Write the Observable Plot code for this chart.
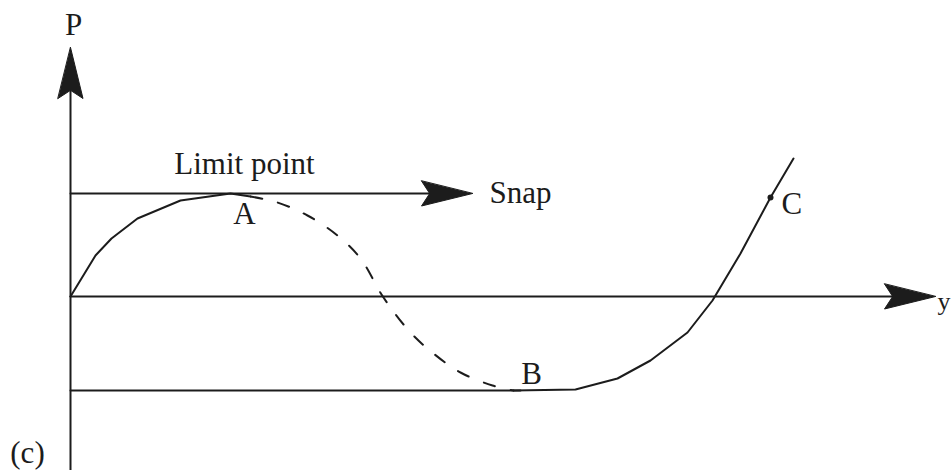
<!DOCTYPE html>
<html>
<head>
<meta charset="utf-8">
<script src="https://cdn.jsdelivr.net/npm/d3@7"></script>
<script src="https://cdn.jsdelivr.net/npm/@observablehq/plot@0.6"></script>
<style>
  html, body { margin: 0; padding: 0; background: #fff; }
  #chart svg { display: block; }
</style>
</head>
<body>
<div id="chart"></div>
<script>
// Displacement (y) and load (P) along the equilibrium path
const stableX1 = [0, 25, 41, 67, 110, 160, 180];
const stableP1 = [0, 41, 58, 78, 96, 103, 100];
const unstableX = [180, 207, 237, 267, 290, 313, 340, 363, 390, 422, 443];
const unstableP = [100, 94, 81, 61, 38, -1, -36, -57, -76, -89, -94];
const stableX2 = [443, 505, 547, 580, 617, 642, 670, 700, 723];
const stableP2 = [-94, -93, -82, -64, -36, -4, 43, 99, 138];

// Reference lines: limit-point load level and lower (snap) level
const limitLoad = 103;
const lowerLoad = -94;
const snapEnd = 402;
const lowerEnd = 450;

// Axes extents
const xMin = -70, xMax = 881, pMin = -174, pMax = 296;
const xAxisEnd = 865, pAxisEnd = 249;

// Point C
const pointC = {x: 700, p: 99};

// Labels
const labelText = ["P", "Limit point", "Snap", "A", "B", "C", "y", "(c)"];
const labelX    = [3, 174, 419, 174, 461, 711, 867, -43];
const labelP    = [271, 132, 103, 82, -78, 92, -5, -157];
const labelSize = [31, 31, 31, 31, 31, 31, 26, 31];
const labelAnchor = ["middle", "middle", "start", "middle", "middle", "start", "start", "middle"];

const zip = (xs, ps) => xs.map((x, i) => ({x, p: ps[i]}));
const path1 = zip(stableX1, stableP1);
const path2 = zip(unstableX, unstableP);
const path3 = zip(stableX2, stableP2);
const labels = labelText.map((t, i) => ({t, x: labelX[i], p: labelP[i], a: labelAnchor[i], s: labelSize[i]}));

const dart = {
  draw(ctx, l, r) {
    ctx.moveTo(0, -l);
    ctx.lineTo(r, 0);
    ctx.lineTo(0, -l * 0.16);
    ctx.lineTo(-r, 0);
    ctx.closePath();
  }
};

const ink = "#1c1c1c";
const arrows = [
  {x: 0, p: pAxisEnd, rot: 0},
  {x: snapEnd, p: limitLoad, rot: 90},
  {x: xAxisEnd, p: 0, rot: 90}
];

const textMarks = [...new Set(labelSize)].flatMap(s =>
  ["middle", "start"].map(a =>
    Plot.text(labels.filter(d => d.a === a && d.s === s), {x: "x", y: "p", text: "t", textAnchor: a, fontSize: s, fill: ink})
  )
);

const chart = Plot.plot({
  width: 951,
  height: 470,
  margin: 0,
  x: {domain: [xMin, xMax], axis: null},
  y: {domain: [pMin, pMax], axis: null},
  style: {background: "#fff", fontFamily: "'Liberation Serif', 'Times New Roman', serif"},
  marks: [
    // axes shafts
    Plot.line([{x: 0, p: pMin}, {x: 0, p: pAxisEnd - 30}], {x: "x", y: "p", stroke: ink, strokeWidth: 2}),
    Plot.line([{x: 0, p: 0}, {x: xAxisEnd - 30, p: 0}], {x: "x", y: "p", stroke: ink, strokeWidth: 2}),
    // limit-load (snap) line and lower line
    Plot.line([{x: 0, p: limitLoad}, {x: snapEnd - 30, p: limitLoad}], {x: "x", y: "p", stroke: ink, strokeWidth: 2}),
    Plot.line([{x: 0, p: lowerLoad}, {x: lowerEnd, p: lowerLoad}], {x: "x", y: "p", stroke: ink, strokeWidth: 2}),
    // equilibrium path
    Plot.line(path1, {x: "x", y: "p", stroke: ink, strokeWidth: 2}),
    Plot.line(path2, {x: "x", y: "p", stroke: ink, strokeWidth: 2, strokeDasharray: "12,16", curve: "catmull-rom"}),
    Plot.line(path3, {x: "x", y: "p", stroke: ink, strokeWidth: 2}),
    // arrowheads
    Plot.vector(arrows, {x: "x", y: "p", rotate: "rot", anchor: "end", length: 51, r: 12.5, shape: dart, fill: ink, stroke: ink, strokeWidth: 1}),
    // point C
    Plot.dot([pointC], {x: "x", y: "p", r: 3, fill: ink}),
    // labels
    ...textMarks
  ]
});
document.getElementById("chart").appendChild(chart);
</script>
</body>
</html>
